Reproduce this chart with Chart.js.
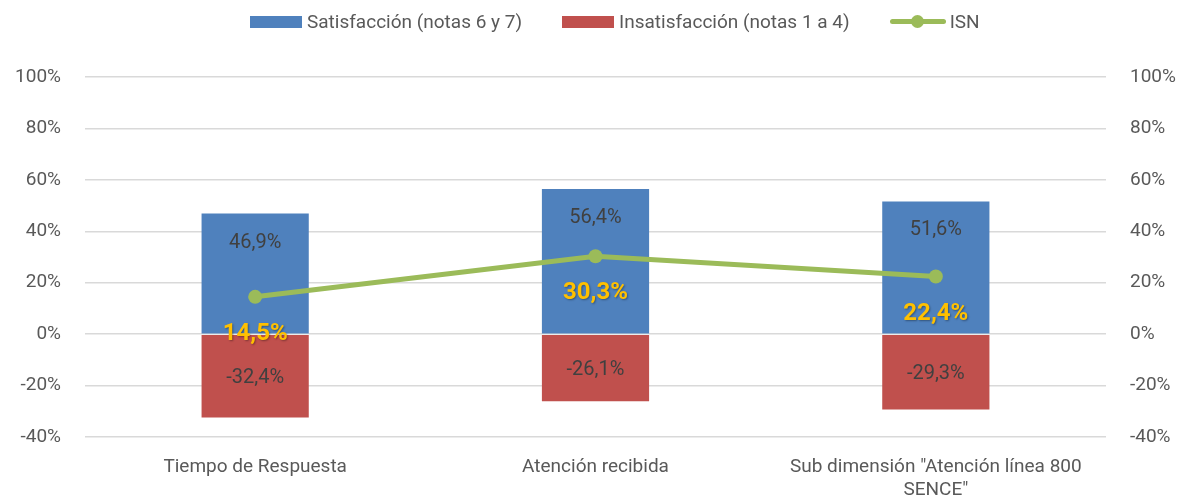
<!DOCTYPE html>
<html>
<head>
<meta charset="utf-8">
<script src="https://cdn.jsdelivr.net/npm/chart.js@4/dist/chart.umd.min.js"></script>
<style>
  html, body { margin: 0; padding: 0; background: #fff; }
  #wrap { position: relative; width: 1190px; height: 500px; }
  #legend {
    position: absolute; top: 10px; left: 250px;
    display: flex; align-items: center;
    font-family: Roboto, "Open Sans", sans-serif; font-size: 19px; color: #595959;
  }
  .item { display: flex; align-items: center; margin-right: 40px; }
  .item:last-child { margin-right: 0; }
  .box { width: 52px; height: 12px; margin-right: 5px; }
  .line { position: relative; width: 56px; height: 5px; margin-right: 4px; border-radius: 3px; }
  .line span { position: absolute; left: 21px; top: -4px; width: 13px; height: 13px; border-radius: 50%; }
</style>
</head>
<body>
<div id="wrap">
  <div id="legend"></div>
  <canvas id="myChart"></canvas>
</div>
<script>
var categories = ["Tiempo de Respuesta", "Atención recibida", ["Sub dimensión \"Atención línea 800", "SENCE\""]];
var satisfaccion = [46.9, 56.4, 51.6];
var insatisfaccion = [-32.4, -26.1, -29.3];
var isn = [14.5, 30.3, 22.4];
var yTicks = [-40, -20, 0, 20, 40, 60, 80, 100];

var fontFamily = "Roboto, 'Open Sans', sans-serif";

function fmt(v) {
  return v.toFixed(1).replace(".", ",") + "%";
}

// data labels drawn by hand, like Excel's
var labelPlugin = {
  id: "labelPlugin",
  afterDatasetsDraw: function (chart) {
    var ctx = chart.ctx;
    ctx.save();
    ctx.textAlign = "center";
    ctx.textBaseline = "middle";
    chart.data.datasets.forEach(function (ds, i) {
      var meta = chart.getDatasetMeta(i);
      meta.data.forEach(function (el, j) {
        var v = ds.data[j];
        var y;
        if (ds.type == "line") {
          ctx.font = "bold 24px " + fontFamily;
          ctx.fillStyle = "#FFC000";
          ctx.shadowColor = "rgba(0,0,0,0.35)";
          ctx.shadowBlur = 2;
          ctx.shadowOffsetX = 1;
          ctx.shadowOffsetY = 1;
          y = el.y + 37;
        } else {
          ctx.font = "20px " + fontFamily;
          ctx.fillStyle = "#404040";
          ctx.shadowColor = "transparent";
          if (v >= 0) y = el.y + 29;
          else y = (el.y + el.base) / 2 + 2;
        }
        ctx.fillText(fmt(v), el.x, y);
      });
    });
    ctx.restore();
  }
};

var yOpts = {
  min: -40,
  max: 100,
  afterBuildTicks: function (axis) {
    axis.ticks = yTicks.map(function (v) { return { value: v }; });
  },
  ticks: {
    color: "#595959",
    font: { family: fontFamily, size: 19 },
    callback: function (v) { return v + "%"; }
  },
  border: { display: false }
};

var chart = new Chart("myChart", {
  data: {
    labels: categories,
    datasets: [
      {
        type: "line",
        label: "ISN",
        data: isn,
        yAxisID: "y1",
        borderColor: "#9BBB59",
        backgroundColor: "#9BBB59",
        borderWidth: 5,
        pointRadius: 7,
        pointHoverRadius: 7,
        pointBackgroundColor: "#9BBB59",
        pointBorderWidth: 0,
        order: 0
      },
      {
        type: "bar",
        label: "Satisfacción (notas 6 y 7)",
        data: satisfaccion,
        backgroundColor: "#4F81BD",
        stack: "s",
        order: 1
      },
      {
        type: "bar",
        label: "Insatisfacción (notas 1 a 4)",
        data: insatisfaccion,
        backgroundColor: "#C0504D",
        stack: "s",
        order: 1
      }
    ]
  },
  options: {
    responsive: true,
    maintainAspectRatio: false,
    animation: false,
    layout: { padding: { top: 77, bottom: 3 } },
    datasets: {
      bar: { categoryPercentage: 1, barPercentage: 0.315 }
    },
    plugins: {
      tooltip: { enabled: false },
      legend: { display: false }
    },
    scales: {
      x: {
        stacked: true,
        grid: { display: false },
        border: { display: false },
        ticks: {
          color: "#595959",
          font: { family: fontFamily, size: 19, lineHeight: 1.25 },
          padding: 10,
          maxRotation: 0,
          autoSkip: false
        },
        afterFit: function (axis) { axis.height = 60; }
      },
      y: Object.assign({}, yOpts, {
        stacked: true,
        position: "left",
        grid: { color: "#D9D9D9", lineWidth: 1.5, drawTicks: false },
        ticks: Object.assign({}, yOpts.ticks, { padding: 24 }),
        afterFit: function (axis) { axis.width = 85; }
      }),
      y1: Object.assign({}, yOpts, {
        position: "right",
        grid: { display: false, drawTicks: false },
        ticks: Object.assign({}, yOpts.ticks, { padding: 24 }),
        afterFit: function (axis) { axis.width = 84; }
      })
    }
  },
  plugins: [labelPlugin]
});

// legend in the page, in Excel's order
var legendOrder = [1, 2, 0];
var html = "";
legendOrder.forEach(function (i) {
  var ds = chart.data.datasets[i];
  if (ds.type == "line") {
    html += '<div class="item"><div class="line" style="background:' + ds.borderColor + '"><span style="background:' + ds.borderColor + '"></span></div>' + ds.label + '</div>';
  } else {
    html += '<div class="item"><div class="box" style="background:' + ds.backgroundColor + '"></div>' + ds.label + '</div>';
  }
});
document.getElementById("legend").innerHTML = html;
</script>
</body>
</html>
